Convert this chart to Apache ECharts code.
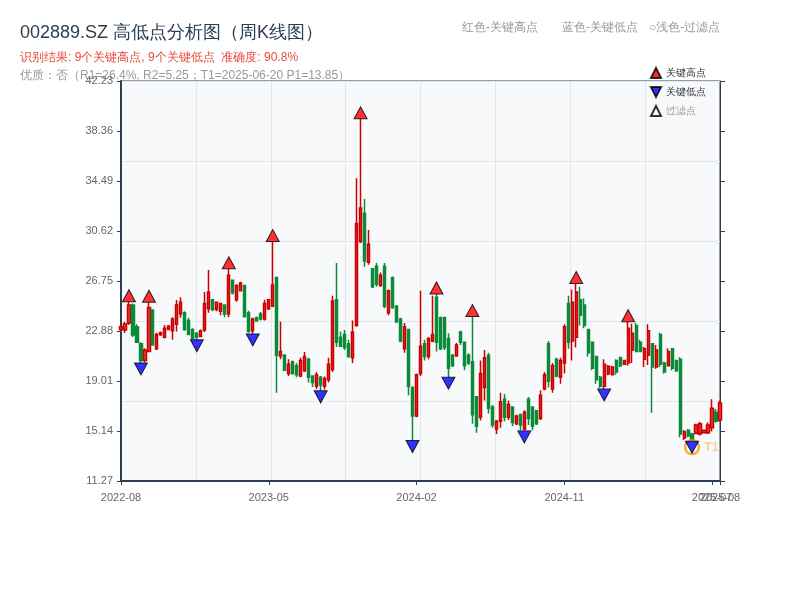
<!DOCTYPE html>
<html><head><meta charset="utf-8">
<script src="https://cdn.jsdelivr.net/npm/echarts@6/dist/echarts.min.js"></script>
<style>html,body{margin:0;padding:0;background:#fff}#c{width:800px;height:600px}</style>
</head><body><div id="c"></div>
<script>
// weekly trading dates (weeks fully closed for holidays are skipped)
const firstWeek = '2022-08-26';
const weekCount = 151;
const holidayWeeks = ['2022-10-07', '2023-01-27', '2023-10-06', '2024-02-16'];
const dates = [];
(function () {
  let t = Date.parse(firstWeek + 'T00:00:00Z');
  while (dates.length < weekCount) {
    const s = new Date(t).toISOString().slice(0, 10);
    if (holidayWeeks.indexOf(s) < 0) dates.push(s);
    t += 7 * 86400000;
  }
})();
// category indices that carry an axis label / tick
const labelIdx = [0, 37, 74, 111, 148, 150];

const opens = [
  23.0, 22.96, 23.5, 24.89, 23.2, 21.9, 20.6, 21.3, 24.5, 21.5,
  22.6, 22.4, 23.0, 22.9, 23.4, 24.2, 24.3, 23.7, 23.0, 22.7,
  22.45, 22.95, 24.6, 25.3, 24.55, 24.4, 24.9, 24.2, 26.8, 25.3,
  26.0, 26.4, 24.3, 22.9, 23.9, 24.2, 23.8, 24.6, 24.8, 27.0,
  20.95, 21.0, 19.6, 20.5, 20.2, 19.4, 19.8, 20.7, 19.4, 18.6,
  19.3, 18.6, 19.1, 19.9, 25.3, 22.4, 22.6, 21.9, 20.8, 23.3,
  29.8, 32.0, 28.2, 27.7, 27.9, 26.4, 27.9, 24.3, 27.0, 24.8,
  23.8, 21.5, 23.0, 18.5, 16.3, 19.6, 21.9, 20.9, 22.1, 25.5,
  23.9, 23.9, 22.3, 21.0, 20.95, 22.8, 22.0, 21.0, 20.5, 17.8,
  16.2, 18.5, 21.0, 17.0, 15.3, 15.9, 17.6, 16.2, 17.0, 15.7,
  16.4, 15.3, 17.6, 17.0, 16.7, 16.1, 18.4, 21.9, 18.4, 20.7,
  19.3, 20.4, 25.0, 22.1, 22.4, 25.3, 24.9, 23.0, 22.0, 20.9,
  19.3, 18.6, 19.55, 19.5, 20.6, 20.8, 20.3, 20.4, 21.4, 23.3,
  22.0, 20.7, 21.0, 21.9, 20.1, 22.6, 20.4, 20.2, 21.5, 20.6,
  20.7, 14.6, 15.2, 14.9, 14.95, 14.9, 15.0, 15.0, 15.4, 16.6, 16.0
];
const closes = [
  23.2, 23.42, 24.9, 22.57, 22.0, 20.6, 21.4, 24.7, 21.8, 22.6,
  22.75, 23.1, 23.25, 23.8, 24.9, 25.1, 23.0, 22.6, 22.3, 22.4,
  22.9, 25.0, 25.9, 24.55, 25.1, 25.0, 24.2, 27.2, 25.85, 26.4,
  26.6, 24.0, 22.85, 23.8, 23.65, 23.8, 25.0, 25.3, 26.45, 21.0,
  21.3, 19.85, 20.3, 19.6, 19.5, 20.6, 20.9, 19.3, 18.9, 19.5,
  18.7, 19.2, 20.3, 25.2, 22.0, 21.7, 21.6, 20.9, 22.8, 31.2,
  32.4, 28.3, 29.6, 26.3, 26.5, 27.2, 24.8, 26.0, 24.7, 23.6,
  22.1, 23.2, 18.6, 16.3, 19.5, 21.7, 20.9, 22.3, 22.6, 22.0,
  21.5, 21.6, 20.0, 20.2, 21.8, 22.0, 20.2, 20.4, 16.4, 15.5,
  19.6, 20.8, 16.9, 15.6, 15.9, 17.4, 16.2, 17.2, 15.8, 16.3,
  15.6, 16.6, 16.1, 15.5, 15.7, 17.9, 19.5, 19.0, 20.2, 19.4,
  20.6, 23.2, 22.0, 25.1, 25.9, 24.1, 23.3, 21.2, 20.0, 19.1,
  18.6, 20.3, 20.15, 20.1, 19.7, 20.2, 20.6, 23.1, 22.7, 21.3,
  21.3, 21.5, 22.9, 20.1, 21.4, 20.3, 19.7, 21.3, 20.0, 19.8,
  14.9, 15.1, 14.75, 14.5, 15.6, 15.7, 15.2, 15.6, 16.9, 15.9, 17.3
];
const lows = [
  22.9, 22.73, 23.35, 22.42, 21.95, 20.4, 20.45, 21.25, 21.75, 21.4,
  22.5, 22.3, 22.95, 22.2, 22.85, 23.9, 22.9, 22.55, 22.3, 22.2,
  22.4, 22.8, 24.3, 24.4, 24.4, 24.1, 23.95, 23.95, 25.7, 25.15,
  25.95, 23.9, 22.75, 22.65, 23.6, 23.7, 23.7, 24.5, 24.74, 18.1,
  20.7, 19.8, 19.4, 19.5, 19.3, 19.3, 19.7, 18.9, 18.55, 18.4,
  18.25, 18.35, 18.9, 19.7, 21.65, 21.65, 21.4, 20.8, 20.4, 23.2,
  29.7, 27.85, 28.0, 26.2, 26.3, 26.3, 24.65, 24.1, 24.6, 23.5,
  22.0, 21.2, 17.9, 14.4, 16.2, 19.4, 20.6, 20.7, 22.0, 21.3,
  21.4, 21.4, 19.3, 20.1, 20.9, 21.8, 19.85, 20.25, 15.7, 15.0,
  15.95, 17.5, 16.5, 15.4, 14.9, 15.4, 15.9, 16.0, 15.5, 15.6,
  15.2, 15.15, 15.6, 15.2, 15.6, 16.0, 18.3, 18.5, 18.1, 19.3,
  18.8, 19.6, 21.5, 20.6, 21.6, 23.3, 23.1, 20.9, 19.85, 18.8,
  18.45, 18.4, 19.45, 19.45, 19.5, 20.1, 20.25, 20.2, 20.4, 21.25,
  21.25, 20.1, 20.25, 16.55, 19.95, 20.1, 19.6, 20.15, 19.85, 19.7,
  14.65, 14.45, 14.65, 14.35, 14.9, 14.8, 14.95, 14.9, 15.1, 15.8, 15.85
];
const highs = [
  23.3, 23.58, 25.15, 25.0, 23.42, 22.0, 21.55, 25.1, 24.55, 22.75,
  22.85, 23.35, 23.35, 23.95, 25.28, 25.5, 24.4, 23.9, 23.1, 22.8,
  23.0, 25.9, 27.6, 25.35, 25.15, 25.05, 24.95, 27.7, 26.85, 26.5,
  26.7, 26.45, 24.45, 23.9, 24.0, 24.35, 25.3, 25.35, 29.8, 27.1,
  23.6, 21.1, 20.7, 20.6, 20.4, 20.8, 21.25, 20.8, 19.45, 19.7,
  19.4, 19.35, 20.8, 25.6, 28.15, 22.85, 22.95, 22.2, 23.7, 34.7,
  39.3, 33.1, 30.7, 27.76, 28.15, 27.4, 28.15, 26.1, 27.1, 24.9,
  23.9, 23.5, 23.05, 18.6, 19.6, 26.0, 22.2, 22.4, 25.6, 25.75,
  24.0, 24.0, 22.7, 21.1, 21.95, 22.9, 22.05, 21.15, 24.0, 17.85,
  20.6, 21.4, 21.2, 17.15, 16.0, 18.1, 18.0, 17.5, 17.05, 16.4,
  16.5, 16.75, 17.77, 17.05, 16.77, 18.3, 19.7, 22.1, 20.4, 20.8,
  20.8, 23.4, 25.6, 26.1, 26.55, 26.3, 25.4, 23.05, 22.05, 20.95,
  19.4, 20.7, 20.25, 20.2, 20.7, 20.9, 20.65, 23.6, 23.45, 23.5,
  22.2, 21.65, 23.4, 21.95, 21.8, 22.75, 20.5, 21.55, 21.55, 20.65,
  20.85, 15.2, 15.3, 15.0, 15.7, 15.85, 15.25, 15.8, 17.6, 16.85, 17.5
];

const keyHighIdx = [2, 7, 27, 38, 60, 79, 88, 114, 127];
const keyLowIdx = [5, 19, 33, 50, 73, 82, 101, 121, 143];
const t1Idx = 143;
const yTicks = [11.27, 15.14, 19.01, 22.88, 26.75, 30.62, 34.49, 38.36, 42.23];

const titleText = '002889.SZ 高低点分析图（周K线图）';
const resultText = '识别结果: 9个关键高点, 9个关键低点  准确度: 90.8%';
const qualityText = '优质：否（R1=26.4%, R2=5.25；T1=2025-06-20 P1=13.85）';
const noteTexts = ['红色-关键高点', '蓝色-关键低点', '○浅色-过滤点'];

const dark = '#2c3e50';
const chart = echarts.init(document.getElementById('c'), null, { renderer: 'canvas' });
chart.setOption({
  animation: false,
  backgroundColor: '#ffffff',
  graphic: [
    { type: 'text', left: 20, top: 24, style: { text: titleText, fontSize: 18, fill: dark } },
    { type: 'text', left: 20, top: 52, style: { text: resultText, fontSize: 12, fill: '#e74c3c' } },
    { type: 'text', left: 20, top: 70, style: { text: qualityText, fontSize: 12, fill: '#999999' } },
    { type: 'text', left: 462, top: 22, style: { text: noteTexts[0], fontSize: 12, fill: '#999999' } },
    { type: 'text', left: 562, top: 22, style: { text: noteTexts[1], fontSize: 12, fill: '#999999' } },
    { type: 'text', left: 649, top: 22, style: { text: noteTexts[2], fontSize: 12, fill: '#999999' } }
  ],
  legend: {
    orient: 'vertical', left: 645, top: 62,
    itemWidth: 10, itemHeight: 10, itemGap: 7,
    textStyle: { fontSize: 10, color: '#333' },
    data: ['关键高点', '关键低点', { name: '过滤点', textStyle: { color: '#999' } }]
  },
  grid: {
    left: 121, right: 80, top: 81, bottom: 119,
    show: true, backgroundColor: '#f7f9fb', borderColor: dark, borderWidth: 1
  },
  xAxis: [
    {
      type: 'category', data: dates, boundaryGap: false,
      axisLine: { lineStyle: { color: dark, width: 2 } },
      axisTick: { show: true, length: 4, interval: (i) => labelIdx.indexOf(i) >= 0, lineStyle: { color: dark } },
      axisLabel: {
        interval: 0, color: '#666', fontSize: 11, margin: 11,
        formatter: (v, i) => (labelIdx.indexOf(i) >= 0 ? v.slice(0, 7) : '')
      },
      splitLine: { show: false }
    },
    {
      type: 'value', min: 0, max: 8, interval: 1, position: 'top',
      axisLine: { show: false }, axisTick: { show: false }, axisLabel: { show: false },
      splitLine: { show: true, lineStyle: { color: '#e2e5ea', width: 1 } }
    }
  ],
  yAxis: [
    {
      type: 'value', min: 11.27, max: 42.23, position: 'left',
      axisLine: { show: true, lineStyle: { color: dark, width: 2 } },
      axisTick: { show: true, length: 4, customValues: yTicks, lineStyle: { color: dark } },
      axisLabel: { customValues: yTicks, color: '#666', fontSize: 11, margin: 8, formatter: v => v.toFixed(2) },
      splitLine: { show: false }
    },
    {
      type: 'value', min: 11.27, max: 42.23, position: 'right',
      axisLine: { show: true, lineStyle: { color: dark, width: 1 } },
      axisTick: { show: true, length: 5, customValues: yTicks, lineStyle: { color: dark } },
      axisLabel: { show: false },
      splitLine: { show: false }
    },
    {
      type: 'value', min: 0, max: 5, interval: 1, position: 'left',
      axisLine: { show: false }, axisTick: { show: false }, axisLabel: { show: false },
      splitLine: { show: true, lineStyle: { color: '#e2e5ea', width: 1 } }
    }
  ],
  series: [
    {
      name: 'K线', type: 'candlestick', xAxisIndex: 0, yAxisIndex: 0, barWidth: 2.6,
      data: dates.map((d, i) => [opens[i], closes[i], lows[i], highs[i]]),
      itemStyle: { color: '#e53935', borderColor: '#cc0000', color0: '#0b8a3a', borderColor0: '#0b8a3a', borderWidth: 1.5 }
    },
    {
      name: 'T1', type: 'scatter', xAxisIndex: 0, yAxisIndex: 0, z: 4,
      data: [[t1Idx, lows[t1Idx]]],
      symbol: 'circle', symbolSize: 14, symbolOffset: [0, 6],
      itemStyle: { color: 'rgba(0,0,0,0)', borderColor: '#f39c12', borderWidth: 2.5 },
      label: { show: true, formatter: 'T1', position: 'right', distance: 4, color: 'rgba(243,156,18,0.55)', fontSize: 12, fontWeight: 'bold' }
    },
    {
      name: '关键高点', type: 'scatter', xAxisIndex: 0, yAxisIndex: 0, z: 5,
      data: keyHighIdx.map(i => [i, highs[i]]),
      symbol: 'triangle', symbolSize: [13, 12], symbolOffset: [0, -6],
      itemStyle: { color: '#ff0000', borderColor: '#000', borderWidth: 1 }
    },
    {
      name: '关键低点', type: 'scatter', xAxisIndex: 0, yAxisIndex: 0, z: 5,
      data: keyLowIdx.map(i => [i, lows[i]]),
      symbol: 'path://M0,0L10,0L5,10Z', symbolSize: [13, 12], symbolOffset: [0, 6],
      itemStyle: { color: '#0000ff', borderColor: '#000', borderWidth: 1 }
    },
    {
      name: '过滤点', type: 'scatter', xAxisIndex: 0, yAxisIndex: 0, z: 5,
      data: [],
      symbol: 'triangle', symbolSize: 8,
      itemStyle: { color: '#fff', borderColor: '#000', borderWidth: 1 }
    }
  ]
});
</script>
</body></html>
